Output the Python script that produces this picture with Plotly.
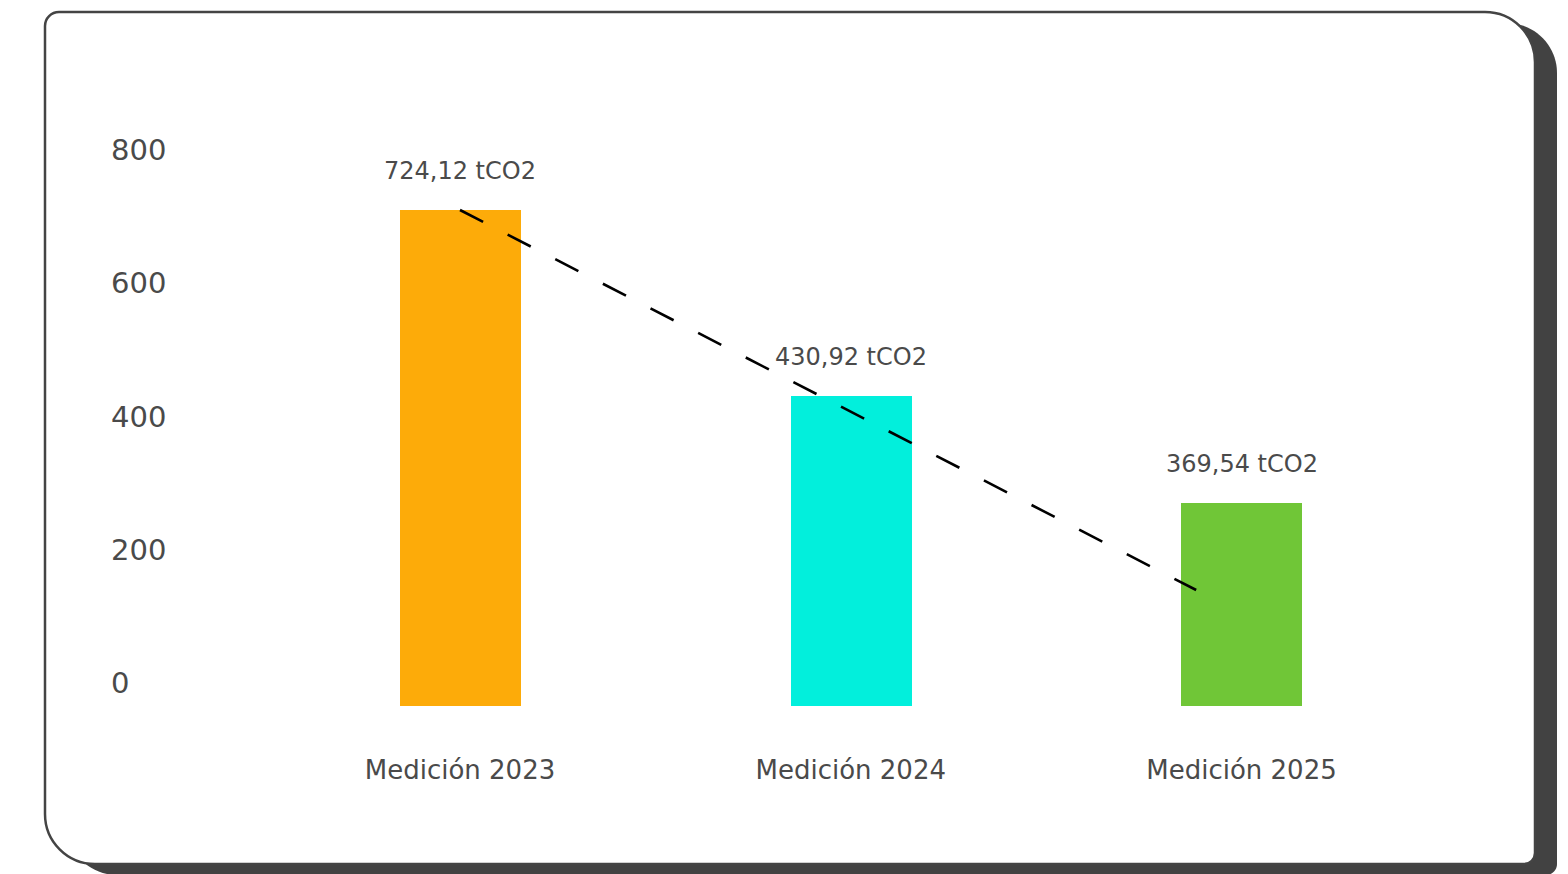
import plotly.graph_objects as go

# ---- data ----
categories = ["Medición 2023", "Medición 2024", "Medición 2025"]
bar_values = [744.5, 465.3, 304.7]
bar_labels = ["724,12 tCO2", "430,92 tCO2", "369,54 tCO2"]
bar_colors = ["#FDAB09", "#02EFDC", "#70C637"]
trend_x = [0, 1.884]
trend_y = [744.5, 174.1]
y_ticks = [0, 200, 400, 600, 800]

W, H = 1568, 874
TEXT = "#4a4a4a"
FONT = "DejaVu Sans"

x_pos = list(range(len(categories)))

fig = go.Figure()
fig.add_trace(go.Bar(
    x=x_pos, y=bar_values, width=0.31,
    marker=dict(color=bar_colors, line=dict(width=0)),
    hoverinfo="skip", showlegend=False,
))
fig.add_trace(go.Scatter(
    x=trend_x, y=trend_y, mode="lines",
    line=dict(color="#000000", width=2.6, dash="26px,27.6px"),
    hoverinfo="skip", showlegend=False,
))

for xi, v, lab in zip(x_pos, bar_values, bar_labels):
    fig.add_annotation(x=xi, y=v, text=lab, showarrow=False,
                       yanchor="middle", yshift=39,
                       font=dict(family=FONT, size=24, color=TEXT))


def px_path(segments):
    out = []
    for cmd, pts in segments:
        coords = " ".join(f"{x / W:.6f},{1 - y / H:.6f}" for x, y in pts)
        out.append(f"{cmd} {coords}".strip())
    return " ".join(out) + " Z"


def rounded_rect(x0, y0, x1, y1, rtl, rtr, rbr, rbl):
    k = 0.5523
    return px_path([
        ("M", [(x0 + rtl, y0)]),
        ("L", [(x1 - rtr, y0)]),
        ("C", [(x1 - rtr + k * rtr, y0), (x1, y0 + rtr - k * rtr), (x1, y0 + rtr)]),
        ("L", [(x1, y1 - rbr)]),
        ("C", [(x1, y1 - rbr + k * rbr), (x1 - rbr + k * rbr, y1), (x1 - rbr, y1)]),
        ("L", [(x0 + rbl, y1)]),
        ("C", [(x0 + rbl - k * rbl, y1), (x0, y1 - rbl + k * rbl), (x0, y1 - rbl)]),
        ("L", [(x0, y0 + rtl)]),
        ("C", [(x0, y0 + rtl - k * rtl), (x0 + rtl - k * rtl, y0), (x0 + rtl, y0)]),
    ])


# shadow
fig.add_shape(type="path", xref="paper", yref="paper", layer="below",
              path=rounded_rect(45 + 22, 12 + 11, 1535 + 22, 864 + 11, 14, 50, 11, 50),
              fillcolor="#424242", line=dict(width=0))
# card
fig.add_shape(type="path", xref="paper", yref="paper", layer="below",
              path=rounded_rect(45, 12, 1535, 864, 14, 50, 11, 50),
              fillcolor="#FFFFFF", line=dict(color="#444444", width=2.5))

px_per_unit = 0.66625
y_top = 850
x_left, x_right = 460 - 0.5 * 390.75, 1241.5 + 0.5 * 390.75

fig.update_layout(
    width=W, height=H,
    margin=dict(l=0, r=0, t=0, b=0, autoexpand=False),
    paper_bgcolor="#FFFFFF", plot_bgcolor="rgba(0,0,0,0)",
    font=dict(family=FONT, color=TEXT),
    xaxis=dict(
        domain=[x_left / W, x_right / W], range=[-0.5, 2.5],
        tickmode="array", tickvals=x_pos, ticktext=categories,
        showgrid=False, zeroline=False, showline=False, ticks="",
        tickfont=dict(family=FONT, size=26, color=TEXT),
        ticklabelstandoff=46, fixedrange=True, automargin=False,
    ),
    yaxis=dict(
        domain=[1 - 706 / H, 1 - (706 - y_top * px_per_unit) / H],
        range=[0, y_top], anchor="free", side="right", position=110 / W,
        tickmode="array", tickvals=y_ticks, ticktext=[str(t) for t in y_ticks],
        showgrid=False, zeroline=False, showline=False, ticks="",
        tickfont=dict(family=FONT, size=29, color=TEXT),
        ticklabelshift=-23, ticklabelstandoff=0, fixedrange=True, automargin=False,
    ),
    bargap=0,
)

post = (
    "var d=document.documentElement,b=document.body;"
    "d.style.margin='0';d.style.padding='0';d.style.overflow='hidden';"
    "b.style.margin='0';b.style.padding='0';b.style.overflow='hidden';"
)

fig.write_html("out.html", config={"displayModeBar": False}, post_script=post)
